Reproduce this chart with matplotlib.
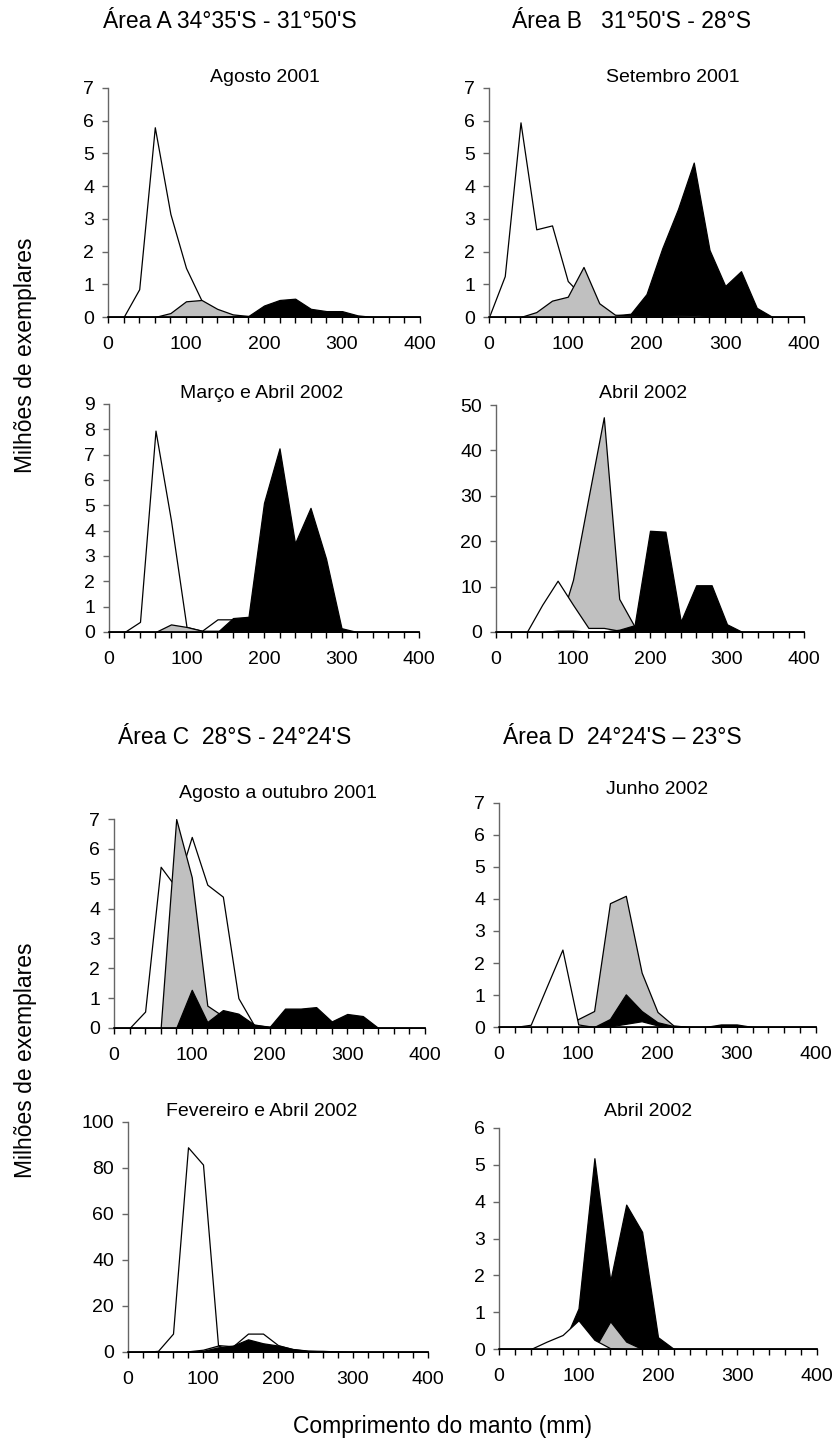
import matplotlib
matplotlib.use("Agg")
import matplotlib.pyplot as plt
import numpy as np

plt.rcParams['font.family'] = ['Liberation Sans', 'DejaVu Sans']

# comprimento do manto (mm), classes de 20 mm
x = np.arange(0, 401, 20)

# Area A - Agosto 2001
a1_white = [0, 0, 0.85, 5.8, 3.15, 1.5, 0.5, 0.15, 0.05, 0, 0, 0, 0, 0, 0, 0, 0, 0, 0, 0, 0]
a1_grey = [0, 0, 0, 0, 0.12, 0.48, 0.52, 0.25, 0.08, 0.03, 0, 0, 0, 0, 0, 0, 0, 0, 0, 0, 0]
a1_black = [0, 0, 0, 0, 0, 0, 0, 0, 0.03, 0.03, 0.35, 0.52, 0.56, 0.25, 0.18, 0.18, 0.05, 0, 0, 0, 0]

# Area B - Setembro 2001
b1_white = [0, 1.25, 5.95, 2.68, 2.8, 1.1, 0.6, 0.2, 0.05, 0, 0, 0, 0, 0, 0, 0, 0, 0, 0, 0, 0]
b1_grey = [0, 0, 0, 0.15, 0.5, 0.62, 1.53, 0.42, 0.07, 0.05, 0.04, 0.04, 0.05, 0.06, 0.03, 0, 0, 0, 0, 0, 0]
b1_black = [0, 0, 0, 0, 0, 0, 0, 0, 0.05, 0.1, 0.7, 2.1, 3.3, 4.72, 2.05, 0.95, 1.4, 0.28, 0, 0, 0]

# Area A - Marco e Abril 2002
a2_white = [0, 0, 0.4, 7.95, 4.4, 0.2, 0.05, 0.5, 0.5, 0.3, 0.1, 0.05, 0, 0, 0, 0, 0, 0, 0, 0, 0]
a2_grey = [0, 0, 0, 0, 0.3, 0.2, 0.05, 0.05, 0, 0, 0, 0, 0, 0, 0, 0, 0, 0, 0, 0, 0]
a2_black = [0, 0, 0, 0, 0, 0, 0, 0, 0.55, 0.6, 5.1, 7.25, 3.5, 4.9, 2.9, 0.15, 0, 0, 0, 0, 0]

# Area B - Abril 2002
b2_white = [0, 0, 0, 6, 11.3, 6, 0.9, 0.9, 0.3, 0, 0, 0, 0, 0, 0, 0, 0, 0, 0, 0, 0]
b2_grey = [0, 0, 0, 0, 0.3, 11.5, 29.5, 47.3, 7.3, 1.2, 0, 0, 0, 0, 0, 0, 0, 0, 0, 0, 0]
b2_black = [0, 0, 0, 0, 0.3, 0.3, 0.1, 0.1, 0.5, 1.5, 22.3, 22.1, 2.3, 10.3, 10.3, 1.7, 0, 0, 0, 0, 0]

# Area C - Agosto a outubro 2001
c1_white = [0, 0, 0.55, 5.4, 4.7, 6.4, 4.8, 4.4, 1.0, 0.1, 0.05, 0, 0, 0, 0, 0, 0, 0, 0, 0, 0]
c1_grey = [0, 0, 0, 0, 7.0, 5.05, 0.75, 0.4, 0.1, 0, 0, 0, 0, 0, 0, 0, 0, 0, 0, 0, 0]
c1_black = [0, 0, 0, 0, 0, 1.28, 0.2, 0.6, 0.48, 0.12, 0.03, 0.65, 0.65, 0.7, 0.22, 0.47, 0.4, 0, 0, 0, 0]

# Area D - Junho 2002
d1_white = [0, 0, 0.07, 1.25, 2.42, 0.08, 0, 0.02, 0.1, 0.18, 0.05, 0, 0, 0, 0, 0, 0, 0, 0, 0, 0]
d1_grey = [0, 0, 0, 0, 0, 0.25, 0.5, 3.87, 4.1, 1.7, 0.47, 0.05, 0, 0, 0, 0, 0, 0, 0, 0, 0]
d1_black = [0, 0, 0, 0, 0, 0, 0, 0.25, 1.02, 0.5, 0.15, 0.03, 0, 0, 0.08, 0.08, 0, 0, 0, 0, 0]

# Area C - Fevereiro e Abril 2002
c2_white = [0, 0, 0.5, 8, 89, 81.5, 3, 2.5, 8, 8, 3, 1.2, 0.5, 0.3, 0.1, 0, 0, 0, 0, 0, 0]
c2_grey = [0, 0, 0, 0, 0.3, 1.0, 2.8, 0.5, 0.2, 0, 0, 0, 0, 0, 0, 0, 0, 0, 0, 0, 0]
c2_black = [0, 0, 0, 0, 0, 0.5, 2.0, 2.8, 5.5, 3.8, 2.8, 1.3, 0.6, 0.5, 0.2, 0, 0, 0, 0, 0, 0]

# Area D - Abril 2002
d2_white = [0, 0, 0, 0.2, 0.38, 0.78, 0.25, 0.02, 0, 0, 0, 0, 0, 0, 0, 0, 0, 0, 0, 0, 0]
d2_grey = [0, 0, 0, 0, 0, 0, 0, 0.75, 0.2, 0, 0, 0, 0, 0, 0, 0, 0, 0, 0, 0, 0]
d2_black = [0, 0, 0, 0, 0.1, 1.1, 5.18, 1.85, 3.92, 3.18, 0.32, 0, 0, 0, 0, 0, 0, 0, 0, 0, 0]

W, H = 837, 1443
fig = plt.figure(figsize=(W / 100, H / 100), dpi=100)

fills = {'w': 'white', 'g': '#C0C0C0', 'k': 'black'}

# (title, title x/y, series, draw order, ymax, ystep, left, top, right, bottom) in pixels
panels = [
    ("Agosto 2001", 265, 78, (a1_white, a1_grey, a1_black), 'wgk', 7, 1, 108, 88, 420, 317),
    ("Setembro 2001", 673, 78, (b1_white, b1_grey, b1_black), 'wkg', 7, 1, 489, 88, 804, 317),
    ("Março e Abril 2002", 262, 394, (a2_white, a2_grey, a2_black), 'wgk', 9, 1, 109, 404, 419, 632),
    ("Abril 2002", 643, 394, (b2_white, b2_grey, b2_black), 'gwk', 50, 10, 496, 405, 804, 632),
    ("Agosto a outubro 2001", 278, 794, (c1_white, c1_grey, c1_black), 'wgk', 7, 1, 114, 819, 425, 1028),
    ("Junho 2002", 657, 789, (d1_white, d1_grey, d1_black), 'gkw', 7, 1, 499, 803, 816, 1027),
    ("Fevereiro e Abril 2002", 262, 1111, (c2_white, c2_grey, c2_black), 'wgk', 100, 20, 128, 1122, 428, 1352),
    ("Abril 2002", 648, 1111, (d2_white, d2_grey, d2_black), 'kgw', 6, 1, 499, 1128, 817, 1349),
]

for title, tx, ty, (sw, sg, sk), order, ymax, ystep, l, t, r, b in panels:
    ax = fig.add_axes([l / W, 1 - b / H, (r - l) / W, (b - t) / H])
    data = {'w': sw, 'g': sg, 'k': sk}
    for z, key in enumerate(order):
        ax.fill_between(x, 0, data[key], facecolor=fills[key], edgecolor='black',
                        linewidth=0.9, zorder=2 + z)
    ax.set_xlim(0, 400)
    ax.set_ylim(0, ymax)
    ax.set_xticks(np.arange(0, 401, 100))
    ax.set_xticks(x, minor=True)
    ax.set_yticks(np.arange(0, ymax + 0.01, ystep))
    for s in ['top', 'right']:
        ax.spines[s].set_visible(False)
    ax.spines['bottom'].set_color('black')
    ax.spines['bottom'].set_linewidth(1.2)
    ax.spines['bottom'].set_zorder(10)
    ax.spines['left'].set_color('0.4')
    ax.spines['left'].set_linewidth(1.0)
    ax.tick_params(axis='x', which='both', direction='out', length=4, width=1.0,
                   color='black', labelsize=14, pad=10)
    ax.tick_params(axis='y', direction='out', length=4, width=1.0, color='0.4',
                   labelsize=14, pad=6)
    ax.patch.set_visible(False)
    fig.text(tx / W, 1 - ty / H, title, ha='center', va='center', fontsize=14)

fig.text(230 / W, 1 - 22 / H, "Área A 34°35'S - 31°50'S", ha='center', va='center', fontsize=16.5)
fig.text(631 / W, 1 - 22 / H, "Área B   31°50'S - 28°S", ha='center', va='center', fontsize=16.5)
fig.text(235 / W, 1 - 738 / H, "Área C  28°S - 24°24'S", ha='center', va='center', fontsize=16.5)
fig.text(622 / W, 1 - 738 / H, "Área D  24°24'S – 23°S", ha='center', va='center', fontsize=16.5)

fig.text(26 / W, 1 - 355 / H, "Milhões de exemplares", rotation=90, ha='center', va='center', fontsize=16.5)
fig.text(26 / W, 1 - 1060 / H, "Milhões de exemplares", rotation=90, ha='center', va='center', fontsize=16.5)
fig.text(443 / W, 1 - 1427 / H, "Comprimento do manto (mm)", ha='center', va='center', fontsize=16.5)

fig.savefig("out.png", dpi=100)
